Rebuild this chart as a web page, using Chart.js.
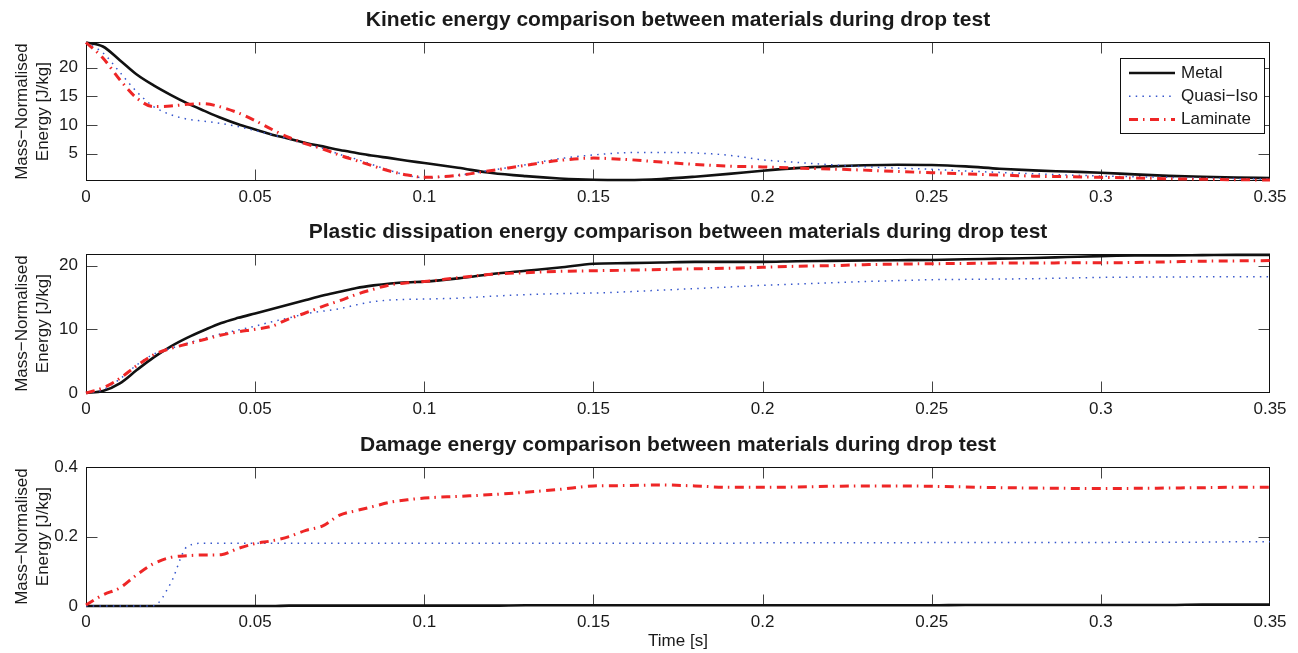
<!DOCTYPE html>
<html lang="en">
<head>
<meta charset="utf-8"/>
<title>Drop test energy comparison</title>
<script src="https://cdn.jsdelivr.net/npm/chart.js"></script>
<style>
body {
  margin: 0;
  background: #fff;
}
.plot {
  position: absolute;
  left: 0;
}
</style>
</head>
<body>
<canvas id="keChart" class="plot" width="1298" height="211" style="top:0px"></canvas>
<canvas id="plasticChart" class="plot" width="1298" height="211" style="top:212px"></canvas>
<canvas id="damageChart" class="plot" width="1298" height="228" style="top:425px"></canvas>
<script>
// time samples [s], shared by every series
const times = [0, 0.005, 0.01, 0.015, 0.02, 0.025, 0.03, 0.035, 0.04, 0.045, 0.05,
  0.055, 0.06, 0.065, 0.07, 0.075, 0.08, 0.085, 0.09, 0.095, 0.1,
  0.11, 0.12, 0.13, 0.14, 0.15, 0.16, 0.17, 0.18, 0.19, 0.2,
  0.21, 0.22, 0.23, 0.24, 0.25, 0.26, 0.27, 0.28, 0.29, 0.3,
  0.31, 0.32, 0.33, 0.34, 0.35];

const seriesLabels = ["Metal", "Quasi\u2212Iso", "Laminate"];

// kinetic energy [J/kg]
const keMetal = [24.4, 23.7, 21.3, 18.8, 16.9, 15.25, 13.75, 12.45, 11.2, 10.1, 9.2,
  8.3, 7.6, 6.85, 6.25, 5.6, 5.1, 4.6, 4.2, 3.75, 3.34,
  2.5, 1.6, 1.05, 0.65, 0.42, 0.38, 0.55, 0.95, 1.45, 2.0,
  2.45, 2.75, 2.95, 3.05, 3.0, 2.75, 2.35, 2.05, 1.85, 1.65,
  1.35, 1.1, 0.95, 0.82, 0.72];
const keQuasi = [24.4, 22.6, 19.2, 15.8, 13.2, 11.8, 11.0, 10.65, 10.25, 9.7, 9.0,
  8.3, 7.5, 6.6, 5.9, 4.85, 4.0, 3.0, 2.0, 1.2, 0.75,
  1.2, 2.1, 3.05, 4.1, 4.75, 5.15, 5.2, 5.1, 4.7, 3.9,
  3.45, 3.05, 2.7, 2.45, 2.24, 1.95, 1.7, 1.45, 1.25, 1.07,
  0.95, 0.83, 0.72, 0.62, 0.54];
const keLaminate = [24.4, 21.7, 17.9, 14.7, 13.2, 13.3, 13.6, 13.7, 13.1, 12.1, 10.75,
  9.2, 7.8, 6.7, 5.8, 4.7, 3.75, 2.8, 1.9, 1.25, 0.85,
  1.2, 2.05, 2.95, 3.8, 4.2, 3.95, 3.5, 3.1, 2.8, 2.65,
  2.45, 2.3, 2.1, 1.85, 1.65, 1.45, 1.25, 1.05, 0.95, 0.84,
  0.72, 0.6, 0.5, 0.42, 0.37];

// plastic dissipation energy [J/kg]
const plMetal = [0, 0.3, 1.5, 3.6, 5.6, 7.3, 8.7, 9.9, 11.0, 11.8, 12.5,
  13.2, 13.9, 14.6, 15.3, 15.9, 16.5, 16.9, 17.2, 17.4, 17.5,
  18.0, 18.7, 19.2, 19.7, 20.3, 20.4, 20.5, 20.6, 20.6, 20.6,
  20.7, 20.75, 20.8, 20.85, 20.9, 21.0, 21.1, 21.2, 21.35, 21.5,
  21.6, 21.6, 21.65, 21.7, 21.7];
const plQuasi = [0, 0.5, 2.2, 4.4, 6.1, 7.0, 7.8, 8.6, 9.3, 9.9, 10.5,
  11.2, 11.8, 12.45, 12.85, 13.25, 13.85, 14.35, 14.6, 14.7, 14.75,
  14.9, 15.2, 15.45, 15.6, 15.7, 15.9, 16.15, 16.4, 16.65, 16.9,
  17.1, 17.3, 17.5, 17.65, 17.8, 17.85, 17.9, 17.95, 18.05, 18.15,
  18.2, 18.2, 18.25, 18.25, 18.25];
const plLaminate = [0, 0.8, 2.3, 4.3, 6.0, 7.0, 7.7, 8.4, 9.1, 9.6, 10.0,
  10.5, 11.65, 12.6, 13.6, 14.5, 15.5, 16.3, 17.0, 17.3, 17.5,
  18.1, 18.65, 18.9, 19.1, 19.2, 19.3, 19.4, 19.5, 19.6, 19.75,
  19.9, 20.0, 20.15, 20.25, 20.3, 20.35, 20.4, 20.4, 20.45, 20.45,
  20.5, 20.6, 20.7, 20.75, 20.8];

// damage energy [J/kg]
const dmMetal = [0, 0, 0, 0, 0, 0, 0, 0, 0, 0, 0,
  0, 0.001, 0.001, 0.001, 0.001, 0.001, 0.001, 0.001, 0.001, 0.001,
  0.001, 0.001, 0.002, 0.002, 0.002, 0.002, 0.002, 0.002, 0.002, 0.002,
  0.002, 0.002, 0.002, 0.002, 0.002, 0.003, 0.003, 0.003, 0.003, 0.003,
  0.003, 0.003, 0.004, 0.004, 0.004];
const dmQuasi = [0, 0, 0, 0, 0.001, 0.065, 0.172, 0.181, 0.181, 0.181, 0.181,
  0.181, 0.181, 0.181, 0.181, 0.181, 0.181, 0.181, 0.181, 0.181, 0.181,
  0.181, 0.181, 0.181, 0.181, 0.181, 0.181, 0.181, 0.181, 0.181, 0.182,
  0.182, 0.182, 0.182, 0.182, 0.183, 0.183, 0.183, 0.183, 0.183, 0.183,
  0.184, 0.184, 0.184, 0.185, 0.185];
const dmLaminate = [0.003, 0.032, 0.052, 0.09, 0.122, 0.14, 0.145, 0.147, 0.148, 0.166, 0.18,
  0.188, 0.2, 0.218, 0.231, 0.262, 0.275, 0.287, 0.299, 0.306, 0.311,
  0.316, 0.321, 0.328, 0.336, 0.346, 0.347, 0.349, 0.346, 0.342, 0.342,
  0.343, 0.345, 0.346, 0.346, 0.345, 0.343, 0.341, 0.340, 0.339, 0.3385,
  0.339, 0.340, 0.341, 0.342, 0.342];

// axis ticks
const xTicks = [0, 0.05, 0.1, 0.15, 0.2, 0.25, 0.3, 0.35];
const keTicks = [5, 10, 15, 20];
const plTicks = [0, 10, 20];
const dmTicks = [0, 0.2, 0.4];

const FONT = "'Liberation Sans', Arial, Helvetica, sans-serif";
const TEXT = "#1a1a1a";
const TICK_LEN = 11;

Chart.defaults.font.family = FONT;
Chart.defaults.color = TEXT;

const lineStyles = [
  { borderColor: "#111111", borderWidth: 2.6, borderDash: [] },
  { borderColor: "#3656cc", borderWidth: 1.5, borderDash: [1.5, 5.2] },
  { borderColor: "#ee2626", borderWidth: 3, borderDash: [9, 5, 1.5, 5.5] }
];

const fmt = v => String(Math.round(v * 100) / 100);

// box around the axes with inward ticks on all four sides
const framePlugin = {
  id: "frame",
  beforeDatasetsDraw(chart) {
    const { ctx, chartArea: a, scales: { x, y } } = chart;
    const L = Math.round(a.left) + 0.5, R = Math.round(a.right) - 0.5;
    const T = Math.round(a.top) + 0.5, B = Math.round(a.bottom) - 0.5;
    const clampX = v => Math.min(R, Math.max(L, v));
    const clampY = v => Math.min(B, Math.max(T, v));
    ctx.save();
    ctx.lineWidth = 1;
    ctx.strokeStyle = "#444";
    ctx.beginPath();
    x.ticks.forEach(t => {
      const px = clampX(Math.round(x.getPixelForValue(t.value)) + 0.5);
      ctx.moveTo(px, B); ctx.lineTo(px, B - TICK_LEN);
      ctx.moveTo(px, T); ctx.lineTo(px, T + TICK_LEN);
    });
    y.ticks.forEach(t => {
      const py = clampY(Math.round(y.getPixelForValue(t.value)) + 0.5);
      ctx.moveTo(L, py); ctx.lineTo(L + TICK_LEN, py);
      ctx.moveTo(R, py); ctx.lineTo(R - TICK_LEN, py);
    });
    ctx.stroke();
    ctx.strokeStyle = "#111";
    ctx.strokeRect(L, T, R - L, B - T);
    ctx.restore();
  }
};

// boxed legend in the upper right of the first axes
const boxLegend = {
  id: "boxLegend",
  afterDatasetsDraw(chart) {
    const { ctx, chartArea: a } = chart;
    const w = 144, h = 75;
    const left = Math.round(a.right) - 6 - w, top = Math.round(a.top) + 16;
    ctx.save();
    ctx.fillStyle = "#fff";
    ctx.fillRect(left, top, w, h);
    ctx.lineWidth = 1;
    ctx.strokeStyle = "#111";
    ctx.strokeRect(left + 0.5, top + 0.5, w, h);
    // datasets are stored laminate-first so it draws on top; list them metal-first
    chart.data.datasets.slice().reverse().forEach((ds, i) => {
      const cy = top + 15 + i * 23.2;
      ctx.strokeStyle = ds.borderColor;
      ctx.lineWidth = ds.borderWidth;
      ctx.setLineDash(ds.borderDash || []);
      ctx.beginPath();
      ctx.moveTo(left + 9, cy);
      ctx.lineTo(left + 55, cy);
      ctx.stroke();
      ctx.setLineDash([]);
      ctx.fillStyle = TEXT;
      ctx.font = "17px " + FONT;
      ctx.textBaseline = "middle";
      ctx.fillText(ds.label, left + 61, cy);
    });
    ctx.restore();
  }
};

function makeChart(id, title, values, yMin, yMax, yTicks, xTitle, xHeight, withLegend) {
  const datasets = values.map((vals, i) => Object.assign({
    label: seriesLabels[i],
    data: times.map((t, k) => ({ x: t, y: vals[k] })),
    pointRadius: 0,
    fill: false,
    clip: false,
    cubicInterpolationMode: "monotone"
  }, lineStyles[i]));

  return new Chart(document.getElementById(id), {
    type: "line",
    data: { datasets: datasets.reverse() },
    options: {
      responsive: false,
      animation: false,
      events: [],
      layout: { padding: { left: 0, right: 28, top: 0, bottom: 0 } },
      plugins: {
        legend: { display: false },
        tooltip: { enabled: false },
        title: {
          display: true,
          fullSize: false,
          text: title,
          color: TEXT,
          font: { size: 21, weight: "bold", lineHeight: 1.2 },
          padding: { top: 7.5, bottom: 9.5 }
        }
      },
      scales: {
        x: {
          type: "linear",
          min: 0,
          max: 0.35,
          grid: { display: false, drawTicks: false },
          border: { display: false },
          afterBuildTicks: s => { s.ticks = xTicks.map(v => ({ value: v })); },
          afterFit: s => { s.height = xHeight; },
          ticks: { padding: 6, font: { size: 17 }, maxRotation: 0, autoSkip: false, callback: fmt },
          title: {
            display: !!xTitle,
            text: xTitle || "",
            font: { size: 17, lineHeight: 1.2 },
            padding: { top: 0, bottom: 1 }
          }
        },
        y: {
          type: "linear",
          min: yMin,
          max: yMax,
          grid: { display: false, drawTicks: false },
          border: { display: false },
          afterBuildTicks: s => { s.ticks = yTicks.map(v => ({ value: v })); },
          afterFit: s => { s.width = 86; },
          ticks: { padding: 8, font: { size: 17 }, autoSkip: false, callback: fmt },
          title: {
            display: true,
            text: ["Mass\u2212Normalised", "Energy [J/kg]"],
            font: { size: 17, lineHeight: 1.24 },
            padding: { top: 11.5, bottom: 0 }
          }
        }
      }
    },
    plugins: withLegend ? [framePlugin, boxLegend] : [framePlugin]
  });
}

makeChart("keChart", "Kinetic energy comparison between materials during drop test",
  [keMetal, keQuasi, keLaminate], 0.2, 24.45, keTicks, null, 30, true);

makeChart("plasticChart", "Plastic dissipation energy comparison between materials during drop test",
  [plMetal, plQuasi, plLaminate], 0, 21.8, plTicks, null, 30, false);

makeChart("damageChart", "Damage energy comparison between materials during drop test",
  [dmMetal, dmQuasi, dmLaminate], 0, 0.4, dmTicks, "Time [s]", 47, false);
</script>
</body>
</html>
